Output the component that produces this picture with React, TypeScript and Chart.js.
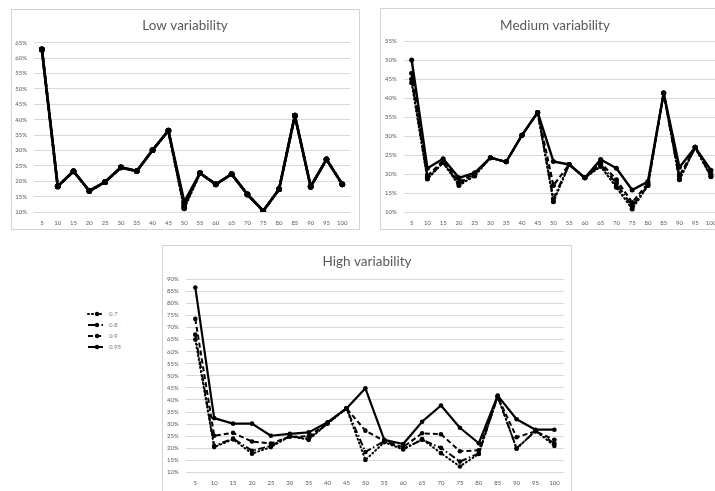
import React, { useEffect, useRef } from "react";
import { Chart, registerables } from "chart.js";

Chart.register(...registerables);

const categories = ["5", "10", "15", "20", "25", "30", "35", "40", "45", "50", "55", "60", "65", "70", "75", "80", "85", "90", "95", "100"];
const seriesLabels = ["0.7", "0.8", "0.9", "0.95"];

const lowP70 = [62.8, 18.3, 23.2, 16.8, 19.7, 24.5, 23.3, 30.1, 36.4, 11.2, 22.6, 19.0, 22.3, 15.7, 10.3, 17.4, 41.3, 18.2, 27.1, 19.0];
const lowP80 = [62.8, 18.3, 23.2, 16.8, 19.7, 24.5, 23.3, 30.1, 36.4, 11.7, 22.6, 19.0, 22.3, 15.7, 10.3, 17.4, 41.3, 18.2, 27.1, 19.0];
const lowP90 = [62.8, 18.3, 23.2, 16.8, 19.7, 24.5, 23.3, 30.1, 36.4, 12.3, 22.6, 19.0, 22.3, 15.7, 10.3, 17.4, 41.3, 18.2, 27.1, 19.0];
const lowP95 = [62.8, 18.4, 23.3, 16.9, 19.8, 24.5, 23.3, 30.1, 36.4, 13.2, 22.6, 19.0, 22.3, 15.7, 10.4, 17.4, 41.3, 18.3, 27.1, 19.0];

const medP70 = [44.0, 18.7, 23.0, 17.0, 19.5, 24.3, 23.2, 30.2, 36.2, 12.7, 22.5, 19.0, 22.0, 16.5, 10.8, 17.0, 41.3, 18.5, 27.0, 19.3];
const medP80 = [45.0, 19.0, 23.0, 17.5, 19.8, 24.3, 23.2, 30.2, 36.2, 13.5, 22.5, 19.0, 22.5, 17.5, 11.5, 17.0, 41.3, 18.7, 27.0, 19.5];
const medP90 = [46.5, 19.5, 23.5, 18.0, 20.0, 24.3, 23.2, 30.2, 36.2, 17.0, 22.5, 19.0, 23.0, 18.5, 12.5, 17.5, 41.3, 19.5, 27.0, 20.0];
const medP95 = [50.0, 21.5, 24.0, 19.0, 20.3, 24.3, 23.2, 30.2, 36.2, 23.3, 22.5, 19.0, 23.8, 21.5, 15.8, 18.0, 41.3, 21.8, 27.0, 21.0];

const highP70 = [65.0, 20.5, 23.7, 17.8, 20.5, 25.0, 23.5, 30.3, 36.5, 15.2, 22.5, 19.5, 23.8, 18.0, 12.5, 17.7, 41.5, 19.8, 27.3, 21.0];
const highP80 = [67.0, 21.0, 24.0, 19.0, 21.0, 25.0, 24.0, 30.3, 36.5, 18.5, 23.0, 19.8, 23.5, 20.2, 14.5, 17.9, 41.4, 20.0, 27.2, 22.0];
const highP90 = [73.5, 25.2, 26.4, 22.8, 22.0, 24.8, 25.0, 30.5, 36.5, 27.3, 23.0, 20.5, 26.2, 25.8, 18.8, 19.2, 41.3, 24.6, 27.0, 23.5];
const highP95 = [86.5, 32.5, 30.2, 30.2, 25.2, 26.0, 26.6, 30.8, 36.5, 44.8, 23.5, 21.8, 31.0, 37.7, 28.5, 22.1, 41.8, 32.0, 27.7, 27.7];

const yMin = 10;
const lowYMax = 65;
const medYMax = 55;
const highYMax = 90;
const yStep = 5;

const lineStyles = [
  { dash: [1, 3], cap: "round", width: 2 },
  { dash: [7, 2.5, 1.5, 2.5], cap: "butt", width: 2 },
  { dash: [5, 3], cap: "butt", width: 2 },
  { dash: [], cap: "butt", width: 2.2 },
];

const FONT = "Lato, 'Open Sans', sans-serif";
const TEXT = "#595959";
const GRID = "#d9d9d9";

const titlePlugin = {
  id: "panelTitle",
  afterDraw(chart: any, _args: any, opts: any) {
    const ctx = chart.ctx;
    ctx.save();
    ctx.fillStyle = TEXT;
    ctx.font = `${opts.size}px ${FONT}`;
    ctx.textAlign = "center";
    ctx.textBaseline = "middle";
    ctx.fillText(opts.text, opts.x, opts.y);
    ctx.restore();
  },
};

type PanelProps = {
  left: number; top: number; width: number; height: number;
  plotL: number; plotT: number; plotR: number; plotB: number;
  title: string; titleX: number; titleY: number;
  yMax: number; series: number[][]; xPad: number; widthScale: number;
};

function Panel(p: PanelProps) {
  const ref = useRef<HTMLCanvasElement | null>(null);
  useEffect(() => {
    if (!ref.current) return;
    const datasets = p.series.map((vals, i) => ({
      label: seriesLabels[i],
      data: vals,
      borderColor: "#000",
      backgroundColor: "#000",
      borderWidth: lineStyles[i].width * p.widthScale,
      borderDash: lineStyles[i].dash,
      borderCapStyle: lineStyles[i].cap as any,
      borderJoinStyle: "round" as any,
      pointRadius: 2.3 * p.widthScale,
      pointBackgroundColor: "#000",
      pointBorderWidth: 0,
      tension: 0,
      fill: false,
    }));
    const chart = new Chart(ref.current, {
      type: "line",
      data: { labels: categories, datasets },
      plugins: [titlePlugin],
      options: {
        animation: false,
        responsive: true,
        maintainAspectRatio: false,
        layout: { padding: { left: 0, top: p.plotT, right: p.width - p.plotR, bottom: 0 } },
        plugins: {
          legend: { display: false },
          tooltip: { enabled: false },
          panelTitle: { text: p.title, x: p.titleX, y: p.titleY, size: 13.5 },
        } as any,
        scales: {
          x: {
            type: "category",
            offset: true,
            grid: { display: false, drawTicks: false },
            border: { display: false },
            ticks: { autoSkip: false, maxRotation: 0, padding: p.xPad, color: TEXT, font: { family: FONT, size: 6 } },
            afterFit: (s: any) => { s.height = p.height - p.plotB; },
          },
          y: {
            min: yMin,
            max: p.yMax,
            grid: { color: GRID, lineWidth: 1, drawTicks: false },
            border: { display: false },
            ticks: { stepSize: yStep, padding: 7, color: TEXT, font: { family: FONT, size: 6 }, callback: (v: any) => `${v}%` },
            afterFit: (s: any) => { s.width = p.plotL; },
          },
        },
      } as any,
    });
    return () => chart.destroy();
  }, []);
  return (
    <div style={{ position: "absolute", left: p.left, top: p.top, width: p.width, height: p.height }}>
      <canvas ref={ref} />
      <div style={{ position: "absolute", left: 0, top: 0, width: p.width, height: p.height, boxSizing: "border-box", border: "1px solid #d4d4d4", pointerEvents: "none" }} />
    </div>
  );
}

function Legend() {
  const rows = [314, 325, 336, 347];
  return (
    <div style={{ position: "absolute", left: 0, top: 0 }}>
      {seriesLabels.map((lab, i) => (
        <div key={lab} style={{ position: "absolute", left: 86, top: rows[i] - 5, height: 10, display: "flex", alignItems: "center" }}>
          <svg width={19} height={10} style={{ display: "block" }}>
            <line x1={2} y1={5} x2={17} y2={5} stroke="#000" strokeWidth={2}
              strokeDasharray={lineStyles[i].dash.length ? lineStyles[i].dash.join(" ") : undefined}
              strokeLinecap={lineStyles[i].cap as any} />
            <circle cx={11} cy={5} r={2.2} fill="#000" />
          </svg>
          <span style={{ marginLeft: 4, fontFamily: FONT, fontSize: 6, color: "#777", lineHeight: "10px" }}>{lab}</span>
        </div>
      ))}
    </div>
  );
}

export default function App() {
  return (
    <div style={{ position: "fixed", left: 0, top: 0, width: 715, height: 491, overflow: "hidden", background: "#fff" }}>
      <Panel left={11} top={9} width={349} height={221} plotL={23} plotT={33.7} plotR={339.2} plotB={203}
        title="Low variability" titleX={174} titleY={16.5} yMax={lowYMax} xPad={7} widthScale={1.25}
        series={[lowP70, lowP80, lowP90, lowP95]} />
      <Panel left={380} top={8} width={350} height={222} plotL={23.8} plotT={33} plotR={338.8} plotB={204}
        title="Medium variability" titleX={175} titleY={17.5} yMax={medYMax} xPad={7} widthScale={1.1}
        series={[medP70, medP80, medP90, medP95]} />
      <Panel left={162} top={245} width={410} height={252} plotL={23.85} plotT={34} plotR={401.85} plotB={227.5}
        title="High variability" titleX={205} titleY={16.7} yMax={highYMax} xPad={6.5} widthScale={1}
        series={[highP70, highP80, highP90, highP95]} />
      <Legend />
    </div>
  );
}
